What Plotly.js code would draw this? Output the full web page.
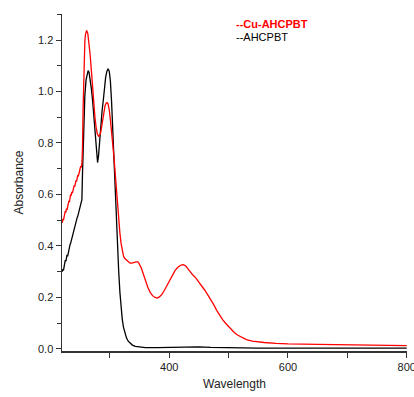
<!DOCTYPE html>
<html>
<head>
<meta charset="utf-8">
<script src="https://cdn.plot.ly/plotly-3.0.1.min.js"></script>
<style>html,body{margin:0;padding:0;background:#fff;}#chart{width:414px;height:397px;}</style>
</head>
<body>
<div id="chart"></div>
<script>
// Cu-AHCPBT (red)
const cuWavelength = [220,221,222,223,224,225,226,227,228,229,230,231,232,233,234,235,236,237,238,239,240,241,242,243,244,245,246,247,248,249,250,251,252,253,
  254,255,256,257,258,259,261,263,265,267,269,271,273,275,277,279,281.5,284,286,288,290,292,294,295.5,297,299,301,303,305,307,309,311,313,315,317,319,321,323,325,328,331,334,337,340,343,346,348,350,353,356,360,364,368,372,376,380,384,388,392,396,400,405,410,415,420,424,428,432,436,440,445,450,455,460,465,470,475,480,485,490,495,500,505,510,515,520,525,530,540,550,560,580,600,650,700,750,800];
const cuAbs = [0.49,0.505,0.50,0.52,0.515,0.535,0.53,0.545,0.54,0.56,0.555,0.575,0.57,0.585,0.60,0.595,0.61,0.605,0.62,0.625,0.635,0.63,0.645,0.655,0.65,0.665,0.675,0.67,0.685,0.695,0.70,0.71,0.705,0.72,
  0.78,0.93,1.06,1.15,1.195,1.222,1.237,1.225,1.19,1.14,1.08,1.01,0.95,0.90,0.86,0.835,0.825,0.835,0.86,0.895,0.925,0.945,0.955,0.957,0.952,0.93,0.89,0.85,0.80,0.745,0.685,0.62,0.55,0.49,0.45,0.41,0.38,0.362,0.352,0.345,0.338,0.333,0.333,0.335,0.338,0.339,0.337,0.33,0.315,0.294,0.265,0.24,0.22,0.207,0.2,0.198,0.203,0.213,0.228,0.245,0.265,0.287,0.305,0.318,0.326,0.327,0.322,0.31,0.297,0.287,0.275,0.26,0.244,0.228,0.21,0.192,0.172,0.15,0.13,0.114,0.1,0.087,0.074,0.063,0.054,0.047,0.041,0.036,0.03,0.027,0.025,0.022,0.02,0.018,0.016,0.014,0.013];

// AHCPBT (black)
const ahWavelength = [220,221,222,223,224,225,226,227,228,229,230,231,232,233,234,235,236,237,238,239,240,241,242,243,244,245,246,247,248,249,250,251,252,253,
  254,255,256,257,258,260,262,263.5,265,267,269,271,273,275,277,278,279.4,281,283,285,287,289,291,293,295,297,299,301,303,305,307,309,311,313,315,317,319,321,323,325,328,331,334,338,343,350,360,380,400,420,435,450,470,500,550,600,700,800];
const ahAbs = [0.30,0.31,0.305,0.32,0.33,0.345,0.34,0.355,0.365,0.36,0.375,0.385,0.395,0.405,0.41,0.42,0.425,0.435,0.44,0.455,0.46,0.475,0.48,0.49,0.50,0.51,0.515,0.525,0.535,0.545,0.55,0.56,0.565,0.58,
  0.68,0.77,0.86,0.93,0.985,1.045,1.075,1.081,1.075,1.05,1.01,0.965,0.91,0.86,0.81,0.765,0.724,0.75,0.82,0.88,0.925,0.965,1.02,1.055,1.078,1.087,1.08,1.04,0.96,0.85,0.71,0.575,0.46,0.38,0.30,0.22,0.16,0.115,0.085,0.063,0.043,0.03,0.022,0.015,0.01,0.007,0.005,0.005,0.006,0.008,0.009,0.008,0.006,0.004,0.003,0.003,0.003,0.003];

const legendLabels = ['--Cu-AHCPBT', '--AHCPBT'];

const traces = [
  {x: ahWavelength, y: ahAbs, type: 'scatter', mode: 'lines', line: {color: '#000000', width: 1.3}, hoverinfo: 'skip'},
  {x: cuWavelength, y: cuAbs, type: 'scatter', mode: 'lines', line: {color: '#ff0000', width: 1.3}, hoverinfo: 'skip'}
];

const layout = {
  width: 414, height: 397,
  margin: {l: 62, r: 7, t: 14, b: 46},
  paper_bgcolor: '#fff', plot_bgcolor: '#fff',
  showlegend: false,
  font: {family: 'Liberation Sans, Arial, sans-serif', color: '#222', size: 11},
  xaxis: {
    range: [219.5, 800.5], showgrid: false, zeroline: false,
    showline: true, linecolor: '#333', linewidth: 1.5,
    ticks: 'outside', ticklen: 5, tickwidth: 1, tickcolor: '#333',
    tick0: 0, dtick: 200, ticklabeloverflow: 'allow',
    minor: {dtick: 100, ticks: 'outside', ticklen: 5, tickwidth: 1, tickcolor: '#333'},
    tickfont: {size: 11, color: '#222'},
    title: {text: 'Wavelength', font: {size: 12, color: '#222'}, standoff: 8}
  },
  yaxis: {
    range: [-0.008, 1.301], showgrid: false, zeroline: false,
    showline: true, linecolor: '#333', linewidth: 1.5,
    ticks: 'outside', ticklen: 5, tickwidth: 1, tickcolor: '#333',
    tick0: 0, dtick: 0.2, tickformat: '.1f',
    minor: {dtick: 0.1, ticks: 'outside', ticklen: 4, tickwidth: 1, tickcolor: '#333'},
    tickfont: {size: 11, color: '#222'},
    title: {text: 'Absorbance', font: {size: 12, color: '#222'}, standoff: 12}
  },
  annotations: [
    {xref: 'paper', yref: 'paper', x: 0.4986, y: 0.970, xanchor: 'left', yanchor: 'middle', showarrow: false,
     text: '<b>' + legendLabels[0] + '</b>', font: {size: 11, color: '#ff0000'}},
    {xref: 'paper', yref: 'paper', x: 0.4986, y: 0.932, xanchor: 'left', yanchor: 'middle', showarrow: false,
     text: legendLabels[1], font: {size: 11, color: '#000000'}}
  ]
};

Plotly.newPlot('chart', traces, layout, {displayModeBar: false, staticPlot: true});
</script>
</body>
</html>
